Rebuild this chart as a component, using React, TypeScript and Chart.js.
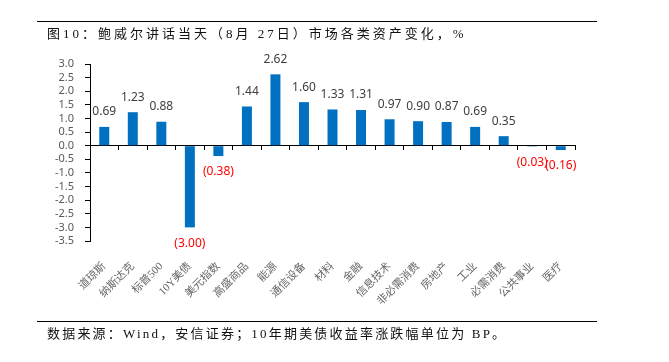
import React, { useEffect, useRef } from "react";
import { Chart, registerables } from "chart.js";

Chart.register(...registerables);

const categories = [
  "道琼斯", "纳斯达克", "标普500", "10Y美债", "美元指数", "高盛商品", "能源", "通信设备",
  "材料", "金融", "信息技术", "非必需消费", "房地产", "工业", "必需消费", "公共事业", "医疗",
];
const changes = [0.69, 1.23, 0.88, -3.0, -0.38, 1.44, 2.62, 1.6, 1.33, 1.31, 0.97, 0.9, 0.87, 0.69, 0.35, -0.03, -0.16];
const yMin = -3.5;
const yMax = 3.0;
const yStep = 0.5;
const titleText = "图10：鲍威尔讲话当天（8月 27日）市场各类资产变化，%";
const sourceText = "数据来源：Wind，安信证券；10年期美债收益率涨跌幅单位为 BP。";

const serifCJK = '"Liberation Serif", "Noto Sans CJK SC", serif';
const numFont = '"Noto Sans", "Liberation Sans", sans-serif';

const barLabels = {
  id: "barLabels",
  afterDatasetsDraw(chart: any) {
    const ctx = chart.ctx;
    const meta = chart.getDatasetMeta(0);
    const data = chart.data.datasets[0].data as number[];
    ctx.save();
    ctx.font = `12px ${numFont}`;
    ctx.textAlign = "center";
    ctx.textBaseline = "middle";
    meta.data.forEach((bar: any, i: number) => {
      const v = data[i];
      if (v >= 0) {
        ctx.fillStyle = "#404040";
        ctx.fillText(v.toFixed(2), bar.x, bar.y - 15);
      } else {
        ctx.fillStyle = "#FF0000";
        ctx.fillText(`(${Math.abs(v).toFixed(2)})`, bar.x, bar.y + 16);
      }
    });
    ctx.restore();
  },
};

export default function App() {
  const ref = useRef<HTMLCanvasElement>(null);

  useEffect(() => {
    if (!ref.current) return;
    const chart = new Chart(ref.current, {
      type: "bar",
      data: {
        labels: categories,
        datasets: [
          {
            data: changes,
            backgroundColor: "#0070C0",
            borderWidth: 0,
            barPercentage: 0.35,
            categoryPercentage: 1,
          },
        ],
      },
      options: {
        responsive: false,
        animation: false,
        devicePixelRatio: 1,
        layout: { padding: { left: 50, right: 94, top: 64, bottom: 51 } },
        plugins: { legend: { display: false }, tooltip: { enabled: false } },
        scales: {
          x: {
            type: "category",
            position: "bottom",
            offset: true,
            grid: { display: false, drawTicks: false },
            border: { display: false },
            ticks: {
              autoSkip: false,
              minRotation: 45,
              maxRotation: 45,
              padding: 19,
              color: "#666666",
              font: { family: serifCJK, size: 11 },
            },
            afterFit(s: any) {
              s.height = 70;
            },
          },
          x2: {
            type: "category",
            labels: categories,
            position: { y: 0 },
            offset: true,
            grid: { offset: true, drawOnChartArea: false, drawTicks: true, tickLength: 4, color: "#000" },
            border: { display: true, color: "#000", width: 1 },
            ticks: { display: false },
          },
          y: {
            min: yMin,
            max: yMax,
            position: "left",
            ticks: {
              stepSize: yStep,
              autoSkip: false,
              padding: 11,
              color: "#595959",
              font: { family: numFont, size: 11 },
              callback: (v: any) => Number(v).toFixed(1),
            },
            grid: { drawOnChartArea: false, drawTicks: true, tickLength: 5, color: "#000" },
            border: { display: true, color: "#000", width: 1 },
            afterFit(s: any) {
              s.width = 40;
            },
          },
        } as any,
      },
      plugins: [barLabels],
    });
    return () => chart.destroy();
  }, []);

  const textStyle: React.CSSProperties = {
    position: "absolute",
    left: 47,
    fontFamily: serifCJK,
    fontSize: 13,
    lineHeight: "16px",
    color: "#111",
    whiteSpace: "nowrap",
  };

  return (
    <div style={{ position: "absolute", left: 0, top: 0, width: 669, height: 362, background: "#fff" }}>
      <canvas ref={ref} width={669} height={362} style={{ position: "absolute", left: 0, top: 0 }} />
      <div style={{ position: "absolute", left: 37, top: 21, width: 560, height: 1, background: "#000" }} />
      <div style={{ ...textStyle, top: 26, letterSpacing: "3px" }}>{titleText}</div>
      <div style={{ position: "absolute", left: 37, top: 321, width: 560, height: 1, background: "#000" }} />
      <div style={{ ...textStyle, top: 326, letterSpacing: "2.2px" }}>{sourceText}</div>
    </div>
  );
}
